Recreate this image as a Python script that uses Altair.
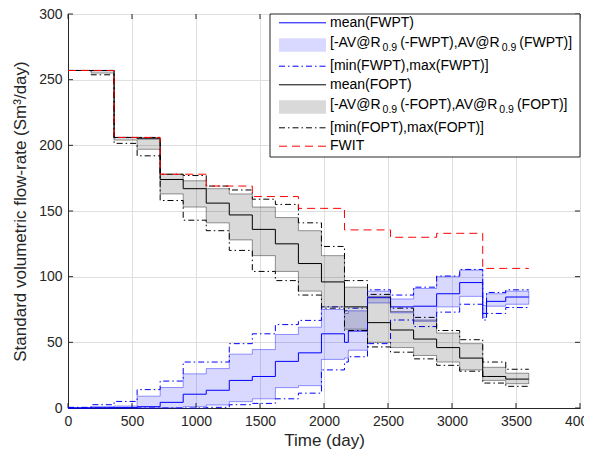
import altair as alt
import pandas as pd

# ---------------- data ----------------
times = [0, 180, 360, 540, 720, 900, 1080, 1260, 1440, 1620, 1800, 1980,
         2160, 2190, 2340, 2520, 2700, 2880, 3060, 3240, 3270, 3420, 3600]

fopt_mean = [257, 257, 206, 205, 174, 167, 156, 147, 136, 125, 110, 96,
             77, 77, 65, 59.4, 52.5, 46, 38, 24, 24, 22]
fopt_max = [257, 257, 206, 206, 178, 177, 169, 166, 159, 155, 141, 123,
            97, 97, 86.5, 76, 69, 59, 52, 35, 35, 29.5]
fopt_hi = [257, 257, 206, 206, 178, 173, 167, 163, 153, 145, 135, 116,
           92, 92, 85, 73.5, 67, 57, 49, 31, 31, 26.5]
fopt_lo = [257, 255, 204, 197, 163, 153, 141, 128, 116, 104, 89, 77,
           60, 60, 50, 46, 40, 35, 29, 21, 21, 18.5]
fopt_min = [257, 253.7, 201.5, 192, 158, 143, 135, 120, 104, 97, 86, 76,
            59, 59, 46.5, 42.5, 37.4, 32.5, 28, 19, 19, 16.5]

fwpt_mean = [0, 0.2, 0.3, 1, 4.3, 10.5, 13.5, 21, 24, 35.5, 42, 56.5,
             50, 58.6, 84, 77, 77.5, 87, 95.5, 72, 81.2, 84.5]
fwpt_max = [0.5, 2.5, 5, 14, 20.5, 35, 35, 49, 56.5, 63.5, 66.7, 77,
            74, 76, 90, 86, 92, 100.5, 105.5, 80, 88, 90]
fwpt_hi = [0.3, 1, 1.5, 9, 15.6, 26, 30, 41, 44.5, 56, 61.5, 75,
           72, 74, 89, 83, 91, 100, 105, 78, 87, 89]
fwpt_lo = [0, 0, 0, 0, 0.3, 1, 2.3, 4.8, 7, 15.5, 17, 37,
           38, 44, 80, 72.5, 66, 77, 85, 69, 77.5, 79]
fwpt_min = [0, 0, 0, 0, 0, 0, 0.5, 2.5, 3.5, 7, 11.3, 29,
            35, 39, 49, 67, 62, 73, 79, 67, 72, 76.5]

fwit = [257, 257, 206, 206, 178, 178, 169, 169, 161, 161, 152, 152,
        135.6, 135.6, 135.6, 130, 130, 133, 133, 106.3, 106.3, 106.3]

xticks = [0, 500, 1000, 1500, 2000, 2500, 3000, 3500, 4000]
yticks = [0, 50, 100, 150, 200, 250, 300]

# ---------------- styling ----------------
FONT = "Liberation Sans"
INK = "#262626"
W, H = 512, 394
DASHDOT = [6, 3, 1.5, 3]
DASHED = [8, 5]


def ext(v):
    return list(v) + [v[-1]]


df = pd.DataFrame({
    "t": times,
    "fopt_mean": ext(fopt_mean), "fopt_max": ext(fopt_max), "fopt_hi": ext(fopt_hi),
    "fopt_lo": ext(fopt_lo), "fopt_min": ext(fopt_min),
    "fwpt_mean": ext(fwpt_mean), "fwpt_max": ext(fwpt_max), "fwpt_hi": ext(fwpt_hi),
    "fwpt_lo": ext(fwpt_lo), "fwpt_min": ext(fwpt_min),
    "fwit": ext(fwit),
})

xscale = alt.Scale(domain=[0, 4000], nice=False, zero=False)
yscale = alt.Scale(domain=[0, 300], nice=False)

xaxis = alt.Axis(values=xticks, title="Time (day)", grid=True, ticks=False,
                 gridColor="#dfdfdf", domainColor=INK, labelColor=INK, titleColor=INK,
                 labelFont=FONT, titleFont=FONT, labelFontSize=14, titleFontSize=17,
                 titleFontWeight="normal", labelPadding=6, titlePadding=4,
                 format="d", labelFlush=False)
yaxis = alt.Axis(values=yticks, title="Standard volumetric flow-rate  (Sm³/day)",
                 grid=True, ticks=False, gridColor="#dfdfdf", domainColor=INK,
                 labelColor=INK, titleColor=INK, labelFont=FONT, titleFont=FONT,
                 labelFontSize=14, titleFontSize=17, titleFontWeight="normal",
                 labelPadding=6, titlePadding=9, format="d", labelFlush=False)


def X(f="t"):
    return alt.X(f"{f}:Q", scale=xscale, axis=xaxis)


def Y(f):
    return alt.Y(f"{f}:Q", scale=yscale, axis=yaxis)


base = alt.Chart(df)


def band(lo, hi, color):
    return base.mark_area(interpolate="step-after", fill=color, fillOpacity=0.15,
                          stroke=color, strokeOpacity=0.4, strokeWidth=1).encode(
        x=X(), y=Y(lo), y2=alt.Y2(f"{hi}:Q"))


def line(f, color, dash=None):
    kw = dict(interpolate="step-after", color=color, strokeWidth=1)
    if dash:
        kw["strokeDash"] = dash
    return base.mark_line(**kw).encode(x=X(), y=Y(f))


# inward ticks (MATLAB style box)
xt = alt.Chart(pd.DataFrame({"v": xticks}))
yt = alt.Chart(pd.DataFrame({"v": yticks}))
ticks = [
    xt.mark_rule(color=INK).encode(x=X("v"), y=alt.value(H), y2=alt.value(H - 5)),
    xt.mark_rule(color=INK).encode(x=X("v"), y=alt.value(0), y2=alt.value(5)),
    yt.mark_rule(color=INK).encode(y=Y("v"), x=alt.value(0), x2=alt.value(5)),
    yt.mark_rule(color=INK).encode(y=Y("v"), x=alt.value(W), x2=alt.value(W - 5)),
]

data_layers = [
    line("fwpt_mean", "#0000ff"),
    band("fwpt_lo", "fwpt_hi", "#0000ff"),
    line("fwpt_min", "#0000ff", DASHDOT),
    line("fwpt_max", "#0000ff", DASHDOT),
    line("fopt_mean", "#000000"),
    band("fopt_lo", "fopt_hi", "#000000"),
    line("fopt_min", "#000000", DASHDOT),
    line("fopt_max", "#000000", DASHDOT),
    line("fwit", "#ff0000", DASHED),
]

# ---------------- custom legend ----------------
one = alt.Chart(pd.DataFrame({"k": [0]}))
AW = {' ': 278, '(': 333, ')': 333, '[': 278, ']': 278, '-': 333, ',': 278, '.': 278,
      '@': 1015, '0': 556, '9': 556, 'A': 667, 'V': 667, 'R': 722, 'F': 611,
      'W': 944, 'P': 667, 'T': 611, 'O': 778}


def tw(s, size):
    return sum(AW.get(c, 556) for c in s) * size / 1000.0


def txt(x, y, s, size=14):
    return one.mark_text(align="left", baseline="middle", font=FONT, fontSize=size,
                         color="#000000").encode(x=alt.value(x), y=alt.value(y),
                                                 text=alt.value(s))


LX0, LX1, TX = 211, 258, 262
rows = [8.8, 30.0, 52.2, 70.8, 92.0, 113.8, 132.2]
legend = [one.mark_rect(fill="white", stroke=INK, strokeWidth=1).encode(
    x=alt.value(202), x2=alt.value(W), y=alt.value(0), y2=alt.value(143))]


def sample_line(y, color, dash=None):
    kw = dict(color=color, strokeWidth=1)
    if dash:
        kw["strokeDash"] = dash
    return one.mark_rule(**kw).encode(x=alt.value(LX0), x2=alt.value(LX1), y=alt.value(y))


def sample_rect(y, color):
    return one.mark_rect(fill=color, fillOpacity=0.15).encode(
        x=alt.value(LX0), x2=alt.value(LX1), y=alt.value(y - 6.7), y2=alt.value(y + 6.7))


def avar_label(y, name):
    parts = [("[-AV@R", 14, 0), ("0.9", 10.5, 5), (f"(-{name}),AV@R", 14, 0),
             ("0.9", 10.5, 5), (f"({name})]", 14, 0)]
    out, x = [], TX
    for s, size, dy in parts:
        out.append(txt(x, y + dy, s, size))
        x += tw(s, size) + (1 if size == 14 else 3)
    return out


legend += [sample_line(rows[0], "#0000ff"), txt(TX, rows[0], "mean(FWPT)")]
legend += [sample_rect(rows[1] + 1, "#0000ff")] + avar_label(rows[1] - 1, "FWPT")
legend += [sample_line(rows[2], "#0000ff", DASHDOT), txt(TX, rows[2], "[min(FWPT),max(FWPT)]")]
legend += [sample_line(rows[3], "#000000"), txt(TX, rows[3], "mean(FOPT)")]
legend += [sample_rect(rows[4] + 1, "#000000")] + avar_label(rows[4] - 1, "FOPT")
legend += [sample_line(rows[5], "#000000", DASHDOT), txt(TX, rows[5], "[min(FOPT),max(FOPT)]")]
legend += [sample_line(rows[6], "#ff0000", DASHED), txt(TX, rows[6], "FWIT")]

chart = alt.layer(*ticks, *data_layers, *legend).properties(
    width=W, height=H,
    autosize=alt.AutoSizeParams(type="none"),
    padding={"left": 60, "top": 6, "right": 4, "bottom": 42},
    background="white",
).configure_view(stroke=INK, strokeWidth=1)

chart.save("out.html", embed_options={"renderer": "svg", "actions": False})
